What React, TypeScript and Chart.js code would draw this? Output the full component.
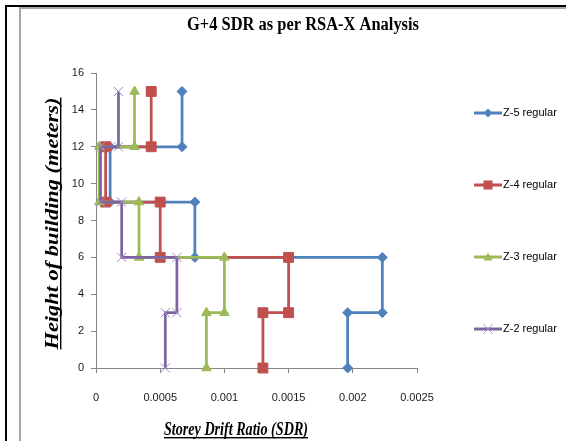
import React, { useEffect, useRef } from 'react';
import { Chart, registerables } from 'chart.js';

Chart.register(...registerables);

// ---- data ----
const seriesNames = ['Z-5 regular', 'Z-4 regular', 'Z-3 regular', 'Z-2 regular'];
const heights = [0, 3, 3, 6, 6, 9, 9, 12, 12, 15];
const z5Sdr = [0.00196, 0.00196, 0.00223, 0.00223, 0.00077, 0.00077, 0.00011, 0.00011, 0.00067, 0.00067];
const z4Sdr = [0.0013, 0.0013, 0.0015, 0.0015, 0.0005, 0.0005, 0.000075, 0.000075, 0.00043, 0.00043];
const z3Sdr = [0.00086, 0.00086, 0.001, 0.001, 0.000335, 0.000335, 0.000025, 0.000025, 0.0003, 0.0003];
const z2Sdr = [0.00054, 0.00054, 0.00063, 0.00063, 0.0002, 0.0002, 0.000035, 0.000035, 0.000175, 0.000175];
const xTickValues = [0, 0.0005, 0.001, 0.0015, 0.002, 0.0025];
const xTickLabels = ['0', '0.0005', '0.001', '0.0015', '0.002', '0.0025'];
const yTickValues = [0, 2, 4, 6, 8, 10, 12, 14, 16];
const yTickLabels = ['0', '2', '4', '6', '8', '10', '12', '14', '16'];
const chartTitle = 'G+4 SDR as per RSA-X Analysis';
const xTitle = 'Storey Drift Ratio (SDR)';
const yTitle = 'Height of building (meters)';

// ---- styles ----
const colors = ['#4F81BD', '#C0504D', '#9BBB59', '#8064A2'];
const markerColors = ['#4F81BD', '#C0504D', '#9BBB59', '#9D8BC4'];
const markers = ['rectRot', 'rect', 'triangle', 'crossRot'];
const markerRadius = [5, 7, 5.5, 6.5];
const sans = '"Liberation Sans", Arial, sans-serif';
const serif = '"Liberation Serif", "Times New Roman", serif';

const seriesValues = [z5Sdr, z4Sdr, z3Sdr, z2Sdr];

function makeLegendImage(i: number): HTMLCanvasElement {
  const c = document.createElement('canvas');
  c.width = 28;
  c.height = 14;
  const g = c.getContext('2d')!;
  const cx = 14;
  const cy = 7;
  g.strokeStyle = colors[i];
  g.lineWidth = 3;
  g.beginPath();
  g.moveTo(0, cy);
  g.lineTo(28, cy);
  g.stroke();
  g.fillStyle = markerColors[i];
  g.strokeStyle = markerColors[i];
  const m = markers[i];
  g.beginPath();
  if (m === 'rectRot') {
    g.moveTo(cx, cy - 4.5);
    g.lineTo(cx + 4.5, cy);
    g.lineTo(cx, cy + 4.5);
    g.lineTo(cx - 4.5, cy);
    g.closePath();
    g.fill();
  } else if (m === 'rect') {
    g.rect(cx - 4.5, cy - 4.5, 9, 9);
    g.fill();
  } else if (m === 'triangle') {
    g.moveTo(cx, cy - 4.5);
    g.lineTo(cx + 4.5, cy + 3.5);
    g.lineTo(cx - 4.5, cy + 3.5);
    g.closePath();
    g.fill();
  } else {
    g.lineWidth = 1;
    g.moveTo(cx - 4.5, cy - 4.5);
    g.lineTo(cx + 4.5, cy + 4.5);
    g.moveTo(cx + 4.5, cy - 4.5);
    g.lineTo(cx - 4.5, cy + 4.5);
    g.stroke();
  }
  return c;
}

function makeTextPlugin(legendImages: HTMLCanvasElement[]) {
  return {
    id: 'customTexts',
    afterDraw(chart: any) {
      const ctx: CanvasRenderingContext2D = chart.ctx;
      const area = chart.chartArea;
      const drawFit = (
        text: string,
        font: string,
        cx: number,
        baseY: number,
        targetW: number,
        rotation: number,
        underline: boolean
      ) => {
        ctx.save();
        ctx.font = font;
        const w = ctx.measureText(text).width;
        ctx.translate(cx, baseY);
        ctx.rotate(rotation);
        ctx.scale(targetW / w, 1);
        ctx.fillStyle = '#000';
        ctx.textAlign = 'center';
        ctx.textBaseline = 'alphabetic';
        ctx.fillText(text, 0, 0);
        if (underline) {
          ctx.fillRect(-w / 2, 2, w, 1.4);
        }
        ctx.restore();
      };
      // chart title
      drawFit(chartTitle, `bold 18px ${serif}`, 303, 30, 232, 0, false);
      // x axis title
      drawFit(xTitle, `italic bold 18px ${serif}`, 236, area.bottom + 67, 144, 0, true);
      // y axis title (rotated)
      drawFit(yTitle, `italic bold 19px ${serif}`, area.left - 38, (area.top + area.bottom) / 2 + 3, 252, -Math.PI / 2, true);

      // legend (Excel style: line + marker, items spread down the right side)
      const midY = (area.top + area.bottom) / 2;
      const step = 72;
      ctx.save();
      ctx.font = `11px ${sans}`;
      ctx.fillStyle = '#000';
      ctx.textAlign = 'left';
      ctx.textBaseline = 'middle';
      seriesNames.forEach((name, i) => {
        const y = Math.round(midY + (i - 1.5) * step);
        ctx.drawImage(legendImages[i], area.right + 57, y - 7);
        ctx.fillText(name, area.right + 86, y);
      });
      ctx.restore();
    },
  };
}

export default function App() {
  const ref = useRef<HTMLCanvasElement>(null);

  useEffect(() => {
    const canvas = ref.current!;
    const legendImages = seriesNames.map((_, i) => makeLegendImage(i));

    const datasets = seriesNames.map((name, i) => ({
      label: name,
      data: heights.map((h, k) => ({ x: seriesValues[i][k], y: h })),
      borderColor: colors[i],
      backgroundColor: colors[i],
      borderWidth: 2.75,
      pointStyle: markers[i],
      pointRadius: markerRadius[i],
      pointBackgroundColor: markerColors[i],
      pointBorderColor: markerColors[i],
      pointBorderWidth: 1,
      tension: 0,
      clip: false as any,
      order: seriesNames.length - 1 - i,
    }));

    const chart = new Chart(canvas, {
      type: 'line',
      data: { datasets },
      plugins: [makeTextPlugin(legendImages)],
      options: {
        responsive: false,
        animation: false,
        devicePixelRatio: 1,
        events: [],
        layout: { padding: { left: 60, top: 73, right: 149, bottom: 36 } },
        plugins: {
          title: { display: false },
          tooltip: { enabled: false },
          legend: { display: false },
        },
        scales: {
          x: {
            type: 'linear',
            min: 0,
            max: 0.0025,
            afterBuildTicks: (scale: any) => {
              scale.ticks = xTickValues.map((v) => ({ value: v }));
            },
            afterFit: (scale: any) => {
              scale.height = 37;
            },
            ticks: {
              autoSkip: false,
              maxRotation: 0,
              padding: 18,
              color: '#1a1a1a',
              font: { family: sans, size: 11 },
              callback: (_v: any, idx: number) => xTickLabels[idx],
            },
            grid: { drawOnChartArea: false, drawTicks: true, tickLength: 5, color: '#868686' },
            border: { color: '#868686', width: 1 },
          },
          y: {
            type: 'linear',
            min: 0,
            max: 16,
            afterBuildTicks: (scale: any) => {
              scale.ticks = yTickValues.map((v) => ({ value: v }));
            },
            afterFit: (scale: any) => {
              scale.width = 36;
            },
            ticks: {
              autoSkip: false,
              padding: 7,
              color: '#1a1a1a',
              font: { family: sans, size: 11 },
              callback: (_v: any, idx: number) => yTickLabels[idx],
            },
            grid: { drawOnChartArea: false, drawTicks: true, tickLength: 5, color: '#868686' },
            border: { color: '#868686', width: 1 },
          },
        },
      } as any,
    });
    return () => chart.destroy();
  }, []);

  return (
    <div style={{ position: 'fixed', left: 0, top: 0, width: 566, height: 441, background: '#fff', overflow: 'hidden' }}>
      <div style={{ position: 'absolute', left: 5, top: 5, width: 2, height: 436, background: '#000' }} />
      <div style={{ position: 'absolute', left: 5, top: 5, width: 561, height: 2, background: '#000' }} />
      <div style={{ position: 'absolute', left: 19, top: 7, width: 547, height: 2, background: '#a6a6a6' }} />
      <div style={{ position: 'absolute', left: 19, top: 7, width: 2, height: 434, background: '#a6a6a6' }} />
      <canvas ref={ref} width={566} height={441} style={{ position: 'absolute', left: 0, top: 0 }} />
    </div>
  );
}
